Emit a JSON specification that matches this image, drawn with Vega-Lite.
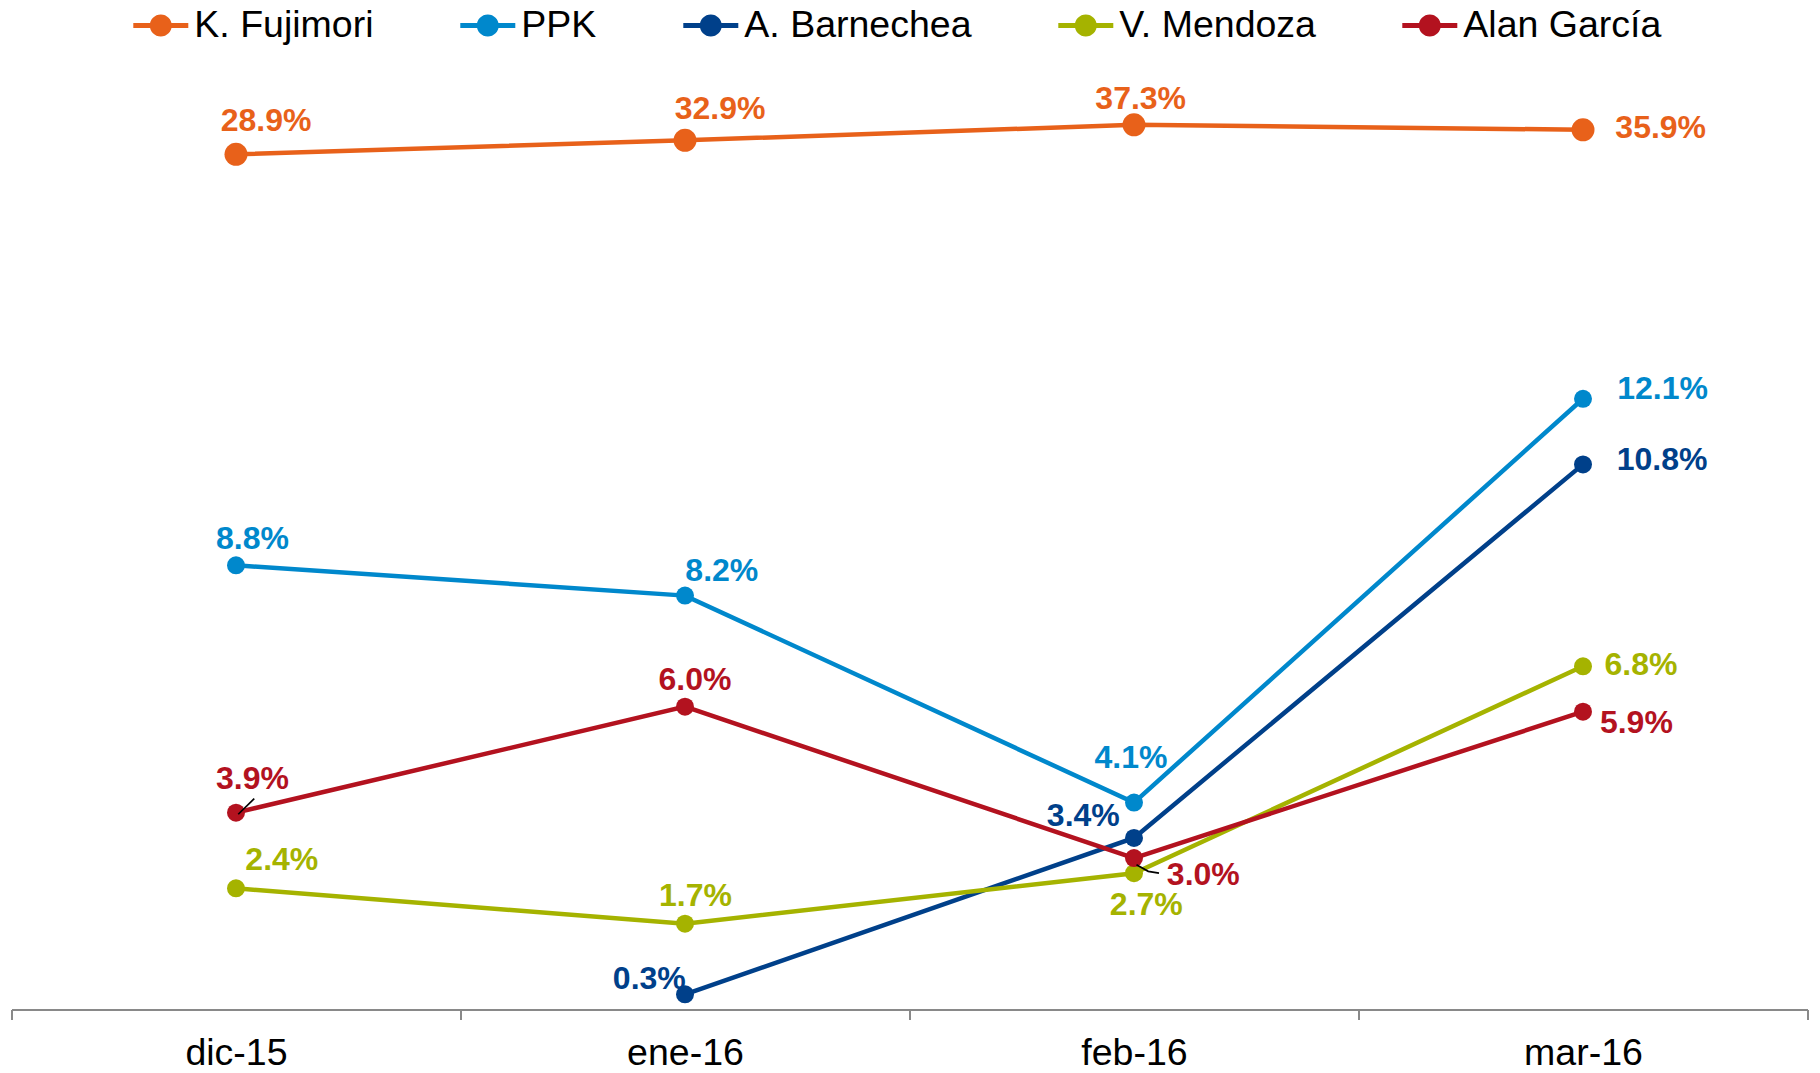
{
  "$schema": "https://vega.github.io/schema/vega-lite/v6.json",
  "width": 1796,
  "height": 959,
  "autosize": {"type": "none"},
  "padding": {"left": 11.5, "top": 50.5, "right": 12.5, "bottom": 63.5},
  "background": "white",
  "config": {
    "view": {"stroke": null},
    "font": "Liberation Sans",
    "text": {"fontSize": 32, "fontWeight": "bold", "font": "Liberation Sans", "align": "center", "baseline": "middle"}
  },
  "data": {
    "values": [
      {"m": "dic-15", "c": "K. Fujimori", "v": 0.289},
      {"m": "ene-16", "c": "K. Fujimori", "v": 0.329},
      {"m": "feb-16", "c": "K. Fujimori", "v": 0.373},
      {"m": "mar-16", "c": "K. Fujimori", "v": 0.359},
      {"m": "dic-15", "c": "PPK", "v": 0.088},
      {"m": "ene-16", "c": "PPK", "v": 0.082},
      {"m": "feb-16", "c": "PPK", "v": 0.041},
      {"m": "mar-16", "c": "PPK", "v": 0.121},
      {"m": "ene-16", "c": "A. Barnechea", "v": 0.003},
      {"m": "feb-16", "c": "A. Barnechea", "v": 0.034},
      {"m": "mar-16", "c": "A. Barnechea", "v": 0.108},
      {"m": "dic-15", "c": "V. Mendoza", "v": 0.024},
      {"m": "ene-16", "c": "V. Mendoza", "v": 0.017},
      {"m": "feb-16", "c": "V. Mendoza", "v": 0.027},
      {"m": "mar-16", "c": "V. Mendoza", "v": 0.068},
      {"m": "dic-15", "c": "Alan García", "v": 0.039},
      {"m": "ene-16", "c": "Alan García", "v": 0.060},
      {"m": "feb-16", "c": "Alan García", "v": 0.030},
      {"m": "mar-16", "c": "Alan García", "v": 0.059}
    ]
  },
  "encoding": {
    "x": {
      "field": "m", "type": "ordinal",
      "sort": ["dic-15", "ene-16", "feb-16", "mar-16"],
      "bandPosition": 0.5,
      "scale": {"type": "band", "paddingInner": 0, "paddingOuter": 0},
      "axis": {
        "title": null, "grid": false, "labelAngle": 0,
        "domainColor": "#898989", "domainWidth": 2,
        "tickColor": "#898989", "tickWidth": 2, "tickSize": 10, "tickBand": "extent",
        "labelFontSize": 37.5, "labelFont": "Liberation Sans", "labelColor": "#000000", "labelPadding": 15
      }
    },
    "color": {
      "field": "c", "type": "nominal",
      "scale": {
        "domain": ["K. Fujimori", "PPK", "A. Barnechea", "V. Mendoza", "Alan García"],
        "range": ["#E8611A", "#0088CC", "#00408A", "#A5B300", "#B3121F"]
      },
      "legend": {
        "orient": "none", "legendX": 121.8, "legendY": -52.5,
        "direction": "horizontal", "title": null,
        "symbolType": "M-1,-0.09H1V0.09H-1Z M-0.4,0A0.4,0.4 0 1,1 0.4,0A0.4,0.4 0 1,1 -0.4,0Z",
        "symbolSize": 3025, "symbolStrokeWidth": 0, "symbolOpacity": 1,
        "labelFontSize": 37.5, "labelFont": "Liberation Sans", "labelColor": "#000000",
        "labelOffset": 6, "columnPadding": 86, "padding": 0, "labelLimit": 400,
        "encode": {"symbols": {"update": {"fill": {"scale": "color", "field": "value"}, "stroke": {"value": "transparent"}}}}
      }
    }
  },
  "layer": [
    {
      "transform": [{"filter": "datum.c != 'K. Fujimori'"}],
      "encoding": {
        "y": {"field": "v", "type": "quantitative", "scale": {"domain": [0, 0.19], "nice": false, "zero": false}, "axis": null}
      },
      "layer": [
        {"mark": {"type": "line", "strokeWidth": 4.5}},
        {"mark": {"type": "point", "filled": true, "opacity": 1, "size": 324, "shape": "circle"}},
        {"transform": [{"filter": "datum.c == 'PPK' && datum.m == 'dic-15'"}], "mark": {"type": "text", "dx": 16.5, "dy": -26.6}, "encoding": {"text": {"field": "v", "type": "quantitative", "format": ".1%"}}},
        {"transform": [{"filter": "datum.c == 'PPK' && datum.m == 'ene-16'"}], "mark": {"type": "text", "dx": 36.8, "dy": -24.5}, "encoding": {"text": {"field": "v", "type": "quantitative", "format": ".1%"}}},
        {"transform": [{"filter": "datum.c == 'PPK' && datum.m == 'feb-16'"}], "mark": {"type": "text", "dx": -3, "dy": -44.5}, "encoding": {"text": {"field": "v", "type": "quantitative", "format": ".1%"}}},
        {"transform": [{"filter": "datum.c == 'PPK' && datum.m == 'mar-16'"}], "mark": {"type": "text", "dx": 79.6, "dy": -10.2}, "encoding": {"text": {"field": "v", "type": "quantitative", "format": ".1%"}}},
        {"transform": [{"filter": "datum.c == 'A. Barnechea' && datum.m == 'ene-16'"}], "mark": {"type": "text", "dx": -35.7, "dy": -15.5}, "encoding": {"text": {"field": "v", "type": "quantitative", "format": ".1%"}}},
        {"transform": [{"filter": "datum.c == 'A. Barnechea' && datum.m == 'feb-16'"}], "mark": {"type": "text", "dx": -50.7, "dy": -21.5}, "encoding": {"text": {"field": "v", "type": "quantitative", "format": ".1%"}}},
        {"transform": [{"filter": "datum.c == 'A. Barnechea' && datum.m == 'mar-16'"}], "mark": {"type": "text", "dx": 79, "dy": -4.7}, "encoding": {"text": {"field": "v", "type": "quantitative", "format": ".1%"}}},
        {"transform": [{"filter": "datum.c == 'V. Mendoza' && datum.m == 'dic-15'"}], "mark": {"type": "text", "dx": 45.8, "dy": -28}, "encoding": {"text": {"field": "v", "type": "quantitative", "format": ".1%"}}},
        {"transform": [{"filter": "datum.c == 'V. Mendoza' && datum.m == 'ene-16'"}], "mark": {"type": "text", "dx": 10.5, "dy": -27.5}, "encoding": {"text": {"field": "v", "type": "quantitative", "format": ".1%"}}},
        {"transform": [{"filter": "datum.c == 'V. Mendoza' && datum.m == 'feb-16'"}], "mark": {"type": "text", "dx": 12.3, "dy": 31.6}, "encoding": {"text": {"field": "v", "type": "quantitative", "format": ".1%"}}},
        {"transform": [{"filter": "datum.c == 'V. Mendoza' && datum.m == 'mar-16'"}], "mark": {"type": "text", "dx": 58, "dy": -1.5}, "encoding": {"text": {"field": "v", "type": "quantitative", "format": ".1%"}}},
        {"transform": [{"filter": "datum.c == 'Alan García' && datum.m == 'dic-15'"}], "mark": {"type": "text", "dx": 16.5, "dy": -33.5}, "encoding": {"text": {"field": "v", "type": "quantitative", "format": ".1%"}}},
        {"transform": [{"filter": "datum.c == 'Alan García' && datum.m == 'ene-16'"}], "mark": {"type": "text", "dx": 10, "dy": -27}, "encoding": {"text": {"field": "v", "type": "quantitative", "format": ".1%"}}},
        {"transform": [{"filter": "datum.c == 'Alan García' && datum.m == 'feb-16'"}], "mark": {"type": "text", "dx": 69.3, "dy": 16.5}, "encoding": {"text": {"field": "v", "type": "quantitative", "format": ".1%"}}},
        {"transform": [{"filter": "datum.c == 'Alan García' && datum.m == 'mar-16'"}], "mark": {"type": "text", "dx": 53.4, "dy": 11.3}, "encoding": {"text": {"field": "v", "type": "quantitative", "format": ".1%"}}},
        {"transform": [{"filter": "datum.c == 'Alan García' && datum.m == 'dic-15'"}], "mark": {"type": "point", "shape": "M0.14,0.1L1.14,-0.875", "size": 1024, "filled": false, "fill": null, "stroke": "#000000", "strokeWidth": 1.7, "opacity": 1}, "encoding": {"color": {"value": "#000000"}}},
        {"transform": [{"filter": "datum.c == 'Alan García' && datum.m == 'feb-16'"}], "mark": {"type": "point", "shape": "M0.1,0.27L0.57,0.53L1,0.6", "size": 2500, "filled": false, "fill": null, "stroke": "#000000", "strokeWidth": 1.7, "opacity": 1}, "encoding": {"color": {"value": "#000000"}}}
      ]
    },
    {
      "transform": [{"filter": "datum.c == 'K. Fujimori'"}],
      "encoding": {
        "y": {"field": "v", "type": "quantitative", "scale": {"domain": [-2.147, 0.5848], "nice": false, "zero": false}, "axis": null}
      },
      "layer": [
        {"mark": {"type": "line", "strokeWidth": 4.5}},
        {"mark": {"type": "point", "filled": true, "opacity": 1, "size": 529, "shape": "circle"}},
        {"transform": [{"filter": "datum.m == 'dic-15'"}], "mark": {"type": "text", "dx": 30, "dy": -33.5}, "encoding": {"text": {"field": "v", "type": "quantitative", "format": ".1%"}}},
        {"transform": [{"filter": "datum.m == 'ene-16'"}], "mark": {"type": "text", "dx": 35, "dy": -31.5}, "encoding": {"text": {"field": "v", "type": "quantitative", "format": ".1%"}}},
        {"transform": [{"filter": "datum.m == 'feb-16'"}], "mark": {"type": "text", "dx": 6.7, "dy": -26}, "encoding": {"text": {"field": "v", "type": "quantitative", "format": ".1%"}}},
        {"transform": [{"filter": "datum.m == 'mar-16'"}], "mark": {"type": "text", "dx": 77.7, "dy": -1.7}, "encoding": {"text": {"field": "v", "type": "quantitative", "format": ".1%"}}}
      ]
    }
  ],
  "resolve": {"scale": {"y": "independent"}}
}
